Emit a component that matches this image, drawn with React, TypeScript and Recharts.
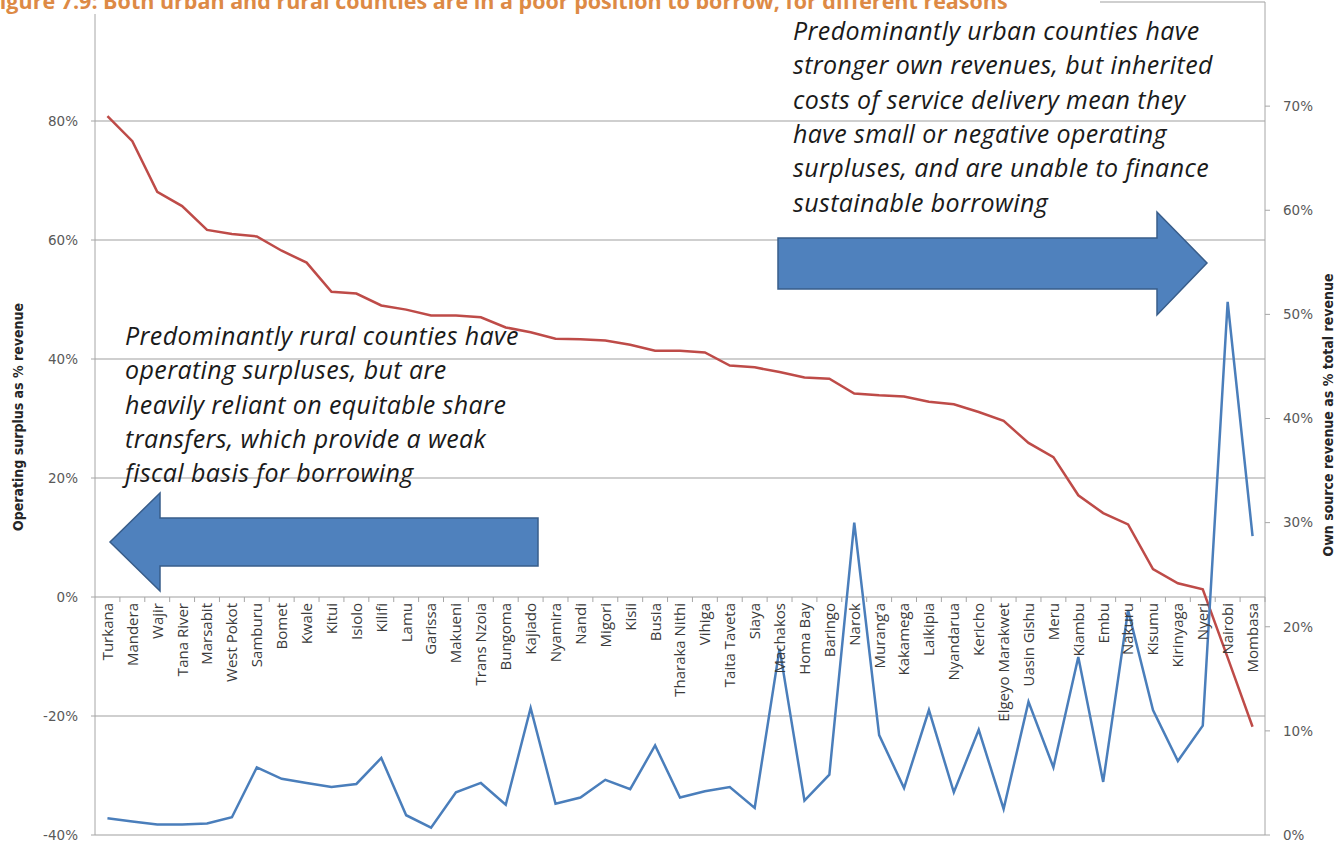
import React from "react";
import { LineChart, Line, XAxis, YAxis, CartesianGrid } from "recharts";

const counties = [
  "Turkana", "Mandera", "Wajir", "Tana River", "Marsabit", "West Pokot", "Samburu", "Bomet",
  "Kwale", "Kitui", "Isiolo", "Kilifi", "Lamu", "Garissa", "Makueni", "Trans Nzoia",
  "Bungoma", "Kajiado", "Nyamira", "Nandi", "Migori", "Kisii", "Busia", "Tharaka Nithi",
  "Vihiga", "Taita Taveta", "Siaya", "Machakos", "Homa Bay", "Baringo", "Narok", "Murang’a",
  "Kakamega", "Laikipia", "Nyandarua", "Kericho", "Elgeyo Marakwet", "Uasin Gishu", "Meru",
  "Kiambu", "Embu", "Nakuru", "Kisumu", "Kirinyaga", "Nyeri", "Nairobi", "Mombasa",
];

// operating surplus as % revenue (left axis)
const operatingSurplus = [
  80.8, 76.6, 68.1, 65.7, 61.7, 61.0, 60.6, 58.2, 56.2, 51.3, 51.0, 49.0, 48.3, 47.3, 47.3, 47.0,
  45.3, 44.5, 43.4, 43.3, 43.1, 42.4, 41.4, 41.4, 41.1, 38.9, 38.6, 37.8, 36.9, 36.7, 34.2, 33.9,
  33.7, 32.8, 32.4, 31.1, 29.6, 25.9, 23.5, 17.1, 14.1, 12.2, 4.7, 2.3, 1.3, -10.2, -21.8,
];

// own source revenue as % total revenue (right axis)
const ownRevenue = [
  1.6, 1.3, 1.0, 1.0, 1.1, 1.7, 6.5, 5.4, 5.0, 4.6, 4.9, 7.4, 1.9, 0.7, 4.1, 5.0,
  2.9, 12.2, 3.0, 3.6, 5.3, 4.4, 8.6, 3.6, 4.2, 4.6, 2.6, 17.9, 3.3, 5.8, 30.0, 9.6,
  4.5, 12.0, 4.1, 10.1, 2.5, 12.8, 6.5, 17.1, 5.1, 21.6, 12.0, 7.1, 10.5, 51.2, 28.7,
];

const leftTicks = [-40, -20, 0, 20, 40, 60, 80];
const rightTicks = [0, 10, 20, 30, 40, 50, 60, 70];
const leftDomain = [-40, 100];
const rightDomain = [0, 80];

const urbanNote = [
  "Predominantly urban counties have",
  "stronger own revenues, but inherited",
  "costs of service delivery mean they",
  "have small or negative operating",
  "surpluses, and are unable to finance",
  "sustainable borrowing",
];
const ruralNote = [
  "Predominantly rural counties have",
  "operating surpluses, but are",
  "heavily reliant on equitable share",
  "transfers, which provide a weak",
  "fiscal basis for borrowing",
];

const data = counties.map((c, i) => ({
  county: c,
  surplus: operatingSurplus[i],
  own: ownRevenue[i],
}));

const W = 1342;
const H = 853;
const M_TOP = 2;
const X_AXIS_H = 18;
const LEFT_W = 95;
const RIGHT_W = 77;
const PLOT_H = H - M_TOP - X_AXIS_H;
const BAND = (W - LEFT_W - RIGHT_W) / counties.length;
const GRID = "#BFBFBF";
const AXIS = "#A6A6A6";

// x labels hang from the 0% line, tick marks sit between categories
function CountyTick(props: any) {
  const { x, y, payload } = props;
  const zeroY = y - (PLOT_H * (0 - leftDomain[0])) / (leftDomain[1] - leftDomain[0]);
  return (
    <g>
      <line x1={x + BAND / 2} x2={x + BAND / 2} y1={zeroY} y2={zeroY + 5} stroke={AXIS} />
      <text
        transform={`translate(${x},${zeroY + 6}) rotate(-90)`}
        textAnchor="end"
        dy="0.36em"
        fontSize={15}
        fontFamily="'Open Sans', sans-serif"
        fill="#3a3a3a"
      >
        {payload.value}
      </text>
    </g>
  );
}

const noteStyle = {
  fontFamily: "'Open Sans', sans-serif",
  fontStyle: "italic",
  fontSize: 25,
  letterSpacing: 0.4,
  fill: "#1a1a1a",
} as const;

export default function App() {
  return (
    <div style={{ position: "absolute", left: 0, top: 0, width: W, height: H, background: "#fff" }}>
      <LineChart width={W} height={H} data={data} margin={{ top: M_TOP, right: 0, bottom: 0, left: 0 }}>
        <CartesianGrid yAxisId="left" vertical={false} stroke={GRID} strokeWidth={1.4} />
        <XAxis
          dataKey="county"
          scale="band"
          interval={0}
          height={X_AXIS_H}
          axisLine={false}
          tickLine={false}
          tickSize={0}
          tickMargin={0}
          tick={<CountyTick />}
        />
        <YAxis
          yAxisId="left"
          width={LEFT_W}
          domain={leftDomain}
          ticks={leftTicks}
          tickFormatter={(v) => `${v}%`}
          axisLine={{ stroke: AXIS }}
          tickLine={{ stroke: AXIS }}
          tickSize={4}
          tickMargin={13}
          tick={{ fontSize: 13.5, fill: "#595959", fontFamily: "'DejaVu Sans', sans-serif" }}
        />
        <YAxis
          yAxisId="right"
          orientation="right"
          width={RIGHT_W}
          domain={rightDomain}
          ticks={rightTicks}
          tickFormatter={(v) => `${v}%`}
          axisLine={{ stroke: AXIS }}
          tickLine={{ stroke: AXIS }}
          tickSize={5}
          tickMargin={13}
          tick={{ fontSize: 13.5, fill: "#595959", fontFamily: "'DejaVu Sans', sans-serif" }}
        />
        <Line
          yAxisId="left"
          dataKey="surplus"
          stroke="#BE4B48"
          strokeWidth={2.5}
          dot={false}
          isAnimationActive={false}
        />
        <Line
          yAxisId="right"
          dataKey="own"
          stroke="#4A7EBB"
          strokeWidth={2.5}
          dot={false}
          isAnimationActive={false}
        />
      </LineChart>

      <svg
        width={W}
        height={H}
        style={{ position: "absolute", left: 0, top: 0, pointerEvents: "none" }}
      >
        <rect x={0} y={0} width={1100} height={14} fill="#fff" />
        <text
          x={-12}
          y={9}
          fontFamily="'Open Sans', sans-serif"
          fontWeight="bold"
          fontSize={21.5}
          fill="#DD8A45"
        >
          Figure 7.9: Both urban and rural counties are in a poor position to borrow, for different reasons
        </text>

        <text
          transform="translate(23,417) rotate(-90)"
          textAnchor="middle"
          fontFamily="'Liberation Sans Narrow', 'DejaVu Sans Condensed', sans-serif"
          fontWeight="bold"
          fontSize={14}
          fill="#262626"
        >
          Operating surplus as % revenue
        </text>
        <text
          transform="translate(1333,415) rotate(-90)"
          textAnchor="middle"
          fontFamily="'Liberation Sans Narrow', 'DejaVu Sans Condensed', sans-serif"
          fontWeight="bold"
          fontSize={14}
          fill="#262626"
        >
          Own source revenue as % total revenue
        </text>

        <polygon
          points="778,238 1157,238 1157,212 1207,263 1157,315 1157,289 778,289"
          fill="#4F81BD"
          stroke="#385D8A"
          strokeWidth={1.5}
        />
        <polygon
          points="538,518 160,518 160,493 110,542 160,591 160,566 538,566"
          fill="#4F81BD"
          stroke="#385D8A"
          strokeWidth={1.5}
        />

        {urbanNote.map((t, i) => (
          <text key={t} x={793} y={40 + i * 34.3} {...noteStyle}>
            {t}
          </text>
        ))}
        {ruralNote.map((t, i) => (
          <text key={t} x={125} y={345 + i * 34.3} {...noteStyle}>
            {t}
          </text>
        ))}
      </svg>
    </div>
  );
}
